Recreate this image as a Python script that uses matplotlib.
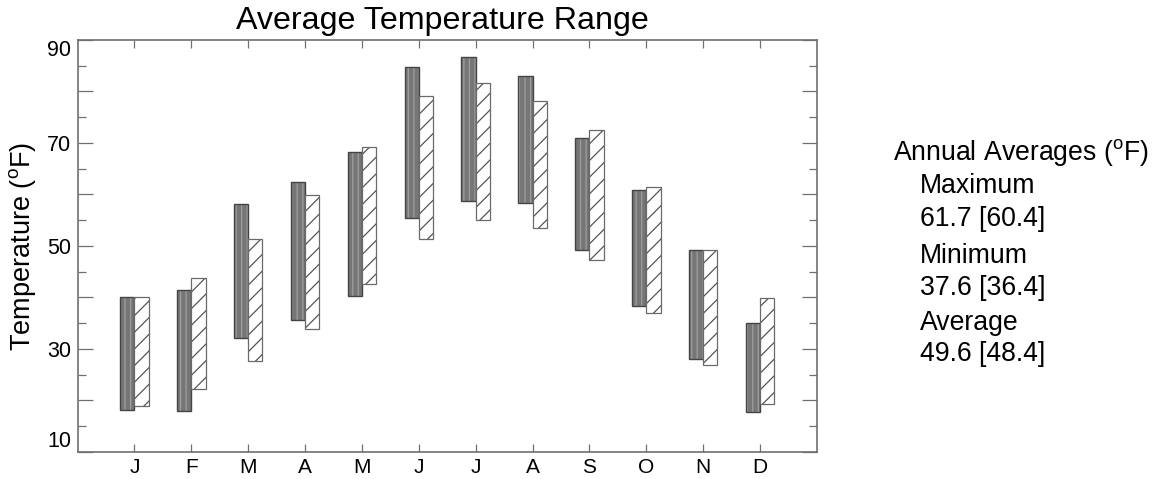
import numpy as np
import matplotlib.pyplot as plt
from matplotlib.ticker import MultipleLocator

plt.rcParams['font.family'] = ['Liberation Sans', 'DejaVu Sans']
plt.rcParams['hatch.linewidth'] = 0.9

# Datos
months = ['J', 'F', 'M', 'A', 'M', 'J', 'J', 'A', 'S', 'O', 'N', 'D']
obs_max = [40.0, 41.4, 58.1, 62.5, 68.2, 84.8, 86.6, 83.1, 70.9, 60.8, 49.1, 35.1]
obs_min = [18.1, 17.9, 32.0, 35.6, 40.3, 55.5, 58.7, 58.3, 49.2, 38.4, 28.0, 17.7]
norm_max = [40.0, 43.7, 51.3, 59.9, 69.3, 79.1, 81.6, 78.2, 72.5, 61.5, 49.1, 39.8]
norm_min = [18.9, 22.1, 27.6, 33.9, 42.6, 51.3, 55.1, 53.5, 47.2, 37.0, 26.8, 19.2]

summary_names = ['Maximum', 'Minimum', 'Average']
summary_obs = [61.7, 37.6, 49.6]
summary_norm = [60.4, 36.4, 48.4]

x = np.arange(1, len(months) + 1)
w = 0.25
obs_max = np.array(obs_max)
obs_min = np.array(obs_min)
norm_max = np.array(norm_max)
norm_min = np.array(norm_min)

fig = plt.figure(figsize=(11.59, 4.79), dpi=100)
ax = fig.add_axes([0.0669, 0.057, 0.638, 0.8595])

# barras grises con rayas verticales
ax.bar(x - w / 2, obs_max - obs_min, w, bottom=obs_min, color='#767676',
       edgecolor='#9e9e9e', hatch='|||', linewidth=0)
ax.bar(x - w / 2, obs_max - obs_min, w, bottom=obs_min, fill=False,
       edgecolor='#444444', linewidth=1.0)

# barras blancas con rayado diagonal
ax.bar(x + w / 2, norm_max - norm_min, w, bottom=norm_min, color='white',
       edgecolor='#555555', hatch='//', linewidth=0)
ax.bar(x + w / 2, norm_max - norm_min, w, bottom=norm_min, fill=False,
       edgecolor='#6a6a6a', linewidth=0.9)

ax.set_xlim(0, 13)
ax.set_ylim(10, 90)
ax.set_xticks(x)
ax.set_xticklabels(months)
ax.yaxis.set_minor_locator(MultipleLocator(5))
ax.set_yticks(np.arange(10, 91, 10))
ax.set_yticklabels([str(v) if v % 20 == 10 else '' for v in range(10, 91, 10)])

for s in ax.spines.values():
    s.set_color('#707070')
    s.set_linewidth(1.2)

ax.tick_params(axis='y', which='major', direction='in', length=11, width=0.9,
               color='#707070', left=True, right=True, labelsize=15.5, pad=4.5)
ax.tick_params(axis='y', which='minor', direction='in', length=5.5, width=0.9,
               color='#707070', left=True, right=True)
ax.tick_params(axis='x', which='major', direction='in', length=5.5, width=0.9,
               color='#707070', top=True, bottom=True, labelsize=15, pad=4.5)

# las etiquetas extremas quedan dentro del eje
ylabels = ax.get_yticklabels()
ylabels[0].set_va('bottom')
ylabels[-1].set_va('top')

ax.set_title('Average Temperature Range', fontsize=23.2, pad=8, x=0.493)
fig.text(0.0198, 0.486, 'Temperature ($^\\mathregular{o}$F)', rotation=90,
         ha='center', va='center', fontsize=19.5)

# Resumen anual a la derecha
fig.text(893 / 1159, 1 - 160 / 479, 'Annual Averages ($^\\mathregular{o}$F)',
         fontsize=19.2, va='baseline', ha='left')
name_base = [193, 263, 330]
val_base = [226, 295, 361]
for name, o, n, yb1, yb2 in zip(summary_names, summary_obs, summary_norm,
                                 name_base, val_base):
    fig.text(920 / 1159, 1 - yb1 / 479, name, fontsize=19.2, va='baseline')
    fig.text(920 / 1159, 1 - yb2 / 479, '%.1f [%.1f]' % (o, n), fontsize=19.2,
             va='baseline')

fig.savefig('out.png', dpi=100)
